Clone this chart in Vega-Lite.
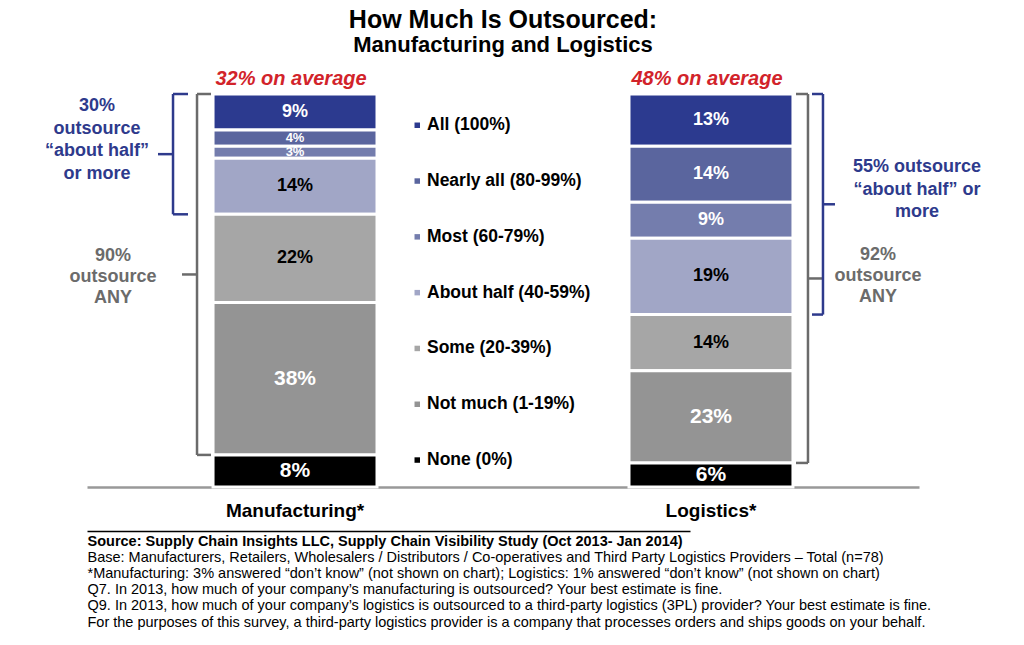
{
  "$schema": "https://vega.github.io/schema/vega-lite/v6.json",
  "width": 832,
  "height": 393,
  "autosize": {"type": "none"},
  "padding": {"left": 87, "top": 94, "right": 105, "bottom": 158},
  "background": "white",
  "config": {
    "font": "Liberation Sans, Arial, sans-serif",
    "view": {"stroke": null},
    "axis": {"grid": false}
  },
  "title": {
    "text": "How Much Is Outsourced:",
    "subtitle": "Manufacturing and Logistics",
    "anchor": "middle",
    "frame": "group",
    "fontSize": 25,
    "fontWeight": "bold",
    "color": "black",
    "subtitleFontSize": 22,
    "subtitleFontWeight": "bold",
    "subtitleColor": "black",
    "subtitlePadding": 2,
    "offset": 13.5
  },
  "datasets": {
    "segments": [
      {"bar": "Manufacturing*", "cat": "All (100%)", "share": 0.09, "rank": 7},
      {"bar": "Manufacturing*", "cat": "Nearly all (80-99%)", "share": 0.04, "rank": 6},
      {"bar": "Manufacturing*", "cat": "Most (60-79%)", "share": 0.03, "rank": 5},
      {"bar": "Manufacturing*", "cat": "About half (40-59%)", "share": 0.14, "rank": 4},
      {"bar": "Manufacturing*", "cat": "Some (20-39%)", "share": 0.22, "rank": 3},
      {"bar": "Manufacturing*", "cat": "Not much (1-19%)", "share": 0.38, "rank": 2},
      {"bar": "Manufacturing*", "cat": "None (0%)", "share": 0.08, "rank": 1},
      {"bar": "Logistics*", "cat": "All (100%)", "share": 0.13, "rank": 7},
      {"bar": "Logistics*", "cat": "Nearly all (80-99%)", "share": 0.14, "rank": 6},
      {"bar": "Logistics*", "cat": "Most (60-79%)", "share": 0.09, "rank": 5},
      {"bar": "Logistics*", "cat": "About half (40-59%)", "share": 0.19, "rank": 4},
      {"bar": "Logistics*", "cat": "Some (20-39%)", "share": 0.14, "rank": 3},
      {"bar": "Logistics*", "cat": "Not much (1-19%)", "share": 0.23, "rank": 2},
      {"bar": "Logistics*", "cat": "None (0%)", "share": 0.06, "rank": 1}
    ],
    "braces": [
      {"id": "Lhalf", "bar": "Manufacturing*", "lo": 0.68, "hi": 0.98, "label": "30%\noutsource\n“about half”\nor more"},
      {"id": "Lany", "bar": "Manufacturing*", "lo": 0.08, "hi": 0.98, "label": "90%\noutsource\nANY"},
      {"id": "Rany", "bar": "Logistics*", "lo": 0.06, "hi": 0.98, "label": "92%\noutsource\nANY"},
      {"id": "Rhalf", "bar": "Logistics*", "lo": 0.43, "hi": 0.98, "label": "55% outsource\n“about half” or\nmore"}
    ],
    "notes": [
      {"bar": "Manufacturing*", "note": "32% on average"},
      {"bar": "Logistics*", "note": "48% on average"}
    ]
  },
  "resolve": {"axis": {"x": "independent"}},
  "layer": [
    {
      "data": {"name": "segments"},
      "mark": {"type": "bar", "stroke": "white", "strokeWidth": 3},
      "encoding": {
        "x": {
          "field": "bar", "type": "nominal", "sort": null,
          "scale": {"domain": ["Manufacturing*", "Logistics*"], "paddingInner": 0.6058, "paddingOuter": 0.303},
          "axis": {"orient": "bottom", "title": null, "domainColor": "#999999", "domainWidth": 2.5, "ticks": false, "labelAngle": 0, "labelFontSize": 19, "labelFontWeight": "bold", "labelColor": "black", "labelPadding": 14}
        },
        "y": {"field": "share", "type": "quantitative", "stack": "zero", "scale": {"domain": [0, 0.98], "nice": false, "zero": true}, "axis": null},
        "color": {
          "field": "cat", "type": "nominal",
          "scale": {
            "domain": ["All (100%)", "Nearly all (80-99%)", "Most (60-79%)", "About half (40-59%)", "Some (20-39%)", "Not much (1-19%)", "None (0%)"],
            "range": ["#2C3A8F", "#5A659E", "#747DAD", "#A1A6C6", "#A6A6A6", "#949494", "#000000"]
          },
          "legend": {"orient": "none", "legendX": 321.5, "legendY": 22.5, "title": null, "symbolType": "square", "symbolSize": 30, "symbolStrokeWidth": 0, "labelFontSize": 17.5, "labelFontWeight": "bold", "labelColor": "black", "rowPadding": 36.8, "labelOffset": 1, "labelLimit": 400, "padding": 0}
        },
        "order": {"field": "rank", "type": "quantitative"}
      }
    },
    {
      "data": {"name": "segments"},
      "mark": {"type": "text", "fontWeight": "bold"},
      "encoding": {
        "x": {
          "field": "bar", "type": "nominal",
          "axis": {"orient": "bottom", "offset": 60, "domain": false, "ticks": false, "labels": false, "title": ["Base:  Manufacturers, Retailers, Wholesalers / Distributors / Co-operatives and Third Party Logistics Providers – Total (n=78)", "*Manufacturing:  3% answered “don’t know” (not shown on chart);  Logistics: 1% answered “don’t know” (not shown on chart)", "Q7. In 2013, how much of your company’s manufacturing is outsourced? Your best estimate is fine.", "Q9. In 2013, how much of your company’s logistics is outsourced to a third-party logistics (3PL) provider? Your best estimate is fine.", "For the purposes of this survey, a third-party logistics provider is a company that processes orders and ships goods on your behalf."], "titleFontSize": 14.5, "titleFontWeight": "normal", "titleColor": "black", "titleAnchor": "start", "titleAlign": "left", "titlePadding": 3, "titleLineHeight": 16.3, "titleLimit": 1000}
        },
        "y": {"field": "share", "type": "quantitative", "stack": "zero", "bandPosition": 0.5},
        "detail": {"field": "cat", "type": "nominal"},
        "order": {"field": "rank", "type": "quantitative"},
        "text": {"field": "share", "type": "quantitative", "format": ".0%"},
        "color": {"condition": {"test": "datum.cat === 'About half (40-59%)' || datum.cat === 'Some (20-39%)'", "value": "black"}, "value": "white"},
        "size": {"condition": [
          {"test": "datum.cat === 'Not much (1-19%)' || datum.cat === 'None (0%)'", "value": 21},
          {"test": "datum.share < 0.05", "value": 13}
        ], "value": 18}
      }
    },
    {
      "data": {"name": "notes"},
      "mark": {"type": "text", "dy": -15, "dx": -4, "fontSize": 20, "fontWeight": "bold", "fontStyle": "italic", "color": "#D2232A"},
      "encoding": {
        "x": {
          "field": "bar", "type": "nominal",
          "axis": {"orient": "bottom", "offset": 44, "domainColor": "black", "domainWidth": 1.5, "domainDash": [603, 2000], "ticks": false, "labels": false, "title": "Source:  Supply Chain Insights LLC, Supply Chain Visibility Study (Oct 2013- Jan 2014)", "titleFontSize": 14.5, "titleFontWeight": "bold", "titleColor": "black", "titleAnchor": "start", "titleAlign": "left", "titlePadding": 3.5, "titleLimit": 1000}
        },
        "y": {"datum": 0.98, "type": "quantitative"},
        "text": {"field": "note"}
      }
    },
    {
      "data": {"name": "braces"},
      "transform": [{"filter": "datum.id === 'Lhalf'"}],
      "layer": [
        {"mark": {"type": "rule", "xOffset": -122, "color": "#2E3A8C", "strokeWidth": 2.5},
         "encoding": {"x": {"field": "bar", "type": "nominal", "axis": null}, "y": {"field": "lo", "type": "quantitative"}, "y2": {"field": "hi"}}},
        {"transform": [{"fold": ["lo", "hi"], "as": ["end", "pos"]}],
         "mark": {"type": "point", "shape": "M0,0L2,0", "size": 225, "xOffset": -122, "filled": false, "color": "#2E3A8C", "strokeWidth": 2.5, "opacity": 1},
         "encoding": {"x": {"field": "bar", "type": "nominal", "axis": null}, "y": {"field": "pos", "type": "quantitative"}}},
        {"mark": {"type": "point", "shape": "M0,0L-2,0", "size": 225, "xOffset": -122, "filled": false, "color": "#2E3A8C", "strokeWidth": 2.5, "opacity": 1},
         "encoding": {"x": {"field": "bar", "type": "nominal", "axis": null}, "y": {"field": "lo", "type": "quantitative", "bin": "binned", "bandPosition": 0.5}, "y2": {"field": "hi"}}},
        {"transform": [{"fold": ["lo", "hi"], "as": ["end", "pos"]}],
         "mark": {"type": "text", "dx": -198, "dy": -48, "fontSize": 18, "fontWeight": "bold", "color": "#2E3A8C", "lineBreak": "\n", "lineHeight": 22.5, "align": "center"},
         "encoding": {"x": {"field": "bar", "type": "nominal", "axis": null}, "y": {"aggregate": "mean", "field": "pos", "type": "quantitative"}, "text": {"field": "label", "type": "nominal"}}}
      ]
    },
    {
      "data": {"name": "braces"},
      "transform": [{"filter": "datum.id === 'Lany'"}],
      "layer": [
        {"mark": {"type": "rule", "xOffset": -98, "color": "#6B6B6B", "strokeWidth": 2.5},
         "encoding": {"x": {"field": "bar", "type": "nominal", "axis": null}, "y": {"field": "lo", "type": "quantitative"}, "y2": {"field": "hi"}}},
        {"transform": [{"fold": ["lo", "hi"], "as": ["end", "pos"]}],
         "mark": {"type": "point", "shape": "M0,0L2,0", "size": 196, "xOffset": -98, "filled": false, "color": "#6B6B6B", "strokeWidth": 2.5, "opacity": 1},
         "encoding": {"x": {"field": "bar", "type": "nominal", "axis": null}, "y": {"field": "pos", "type": "quantitative"}}},
        {"mark": {"type": "point", "shape": "M0,0L-2,0", "size": 225, "xOffset": -98, "filled": false, "color": "#6B6B6B", "strokeWidth": 2.5, "opacity": 1},
         "encoding": {"x": {"field": "bar", "type": "nominal", "axis": null}, "y": {"field": "lo", "type": "quantitative", "bin": "binned", "bandPosition": 0.5}, "y2": {"field": "hi"}}},
        {"transform": [{"fold": ["lo", "hi"], "as": ["end", "pos"]}],
         "mark": {"type": "text", "dx": -182, "dy": -18, "fontSize": 18, "fontWeight": "bold", "color": "#6B6B6B", "lineBreak": "\n", "lineHeight": 21, "align": "center"},
         "encoding": {"x": {"field": "bar", "type": "nominal", "axis": null}, "y": {"aggregate": "mean", "field": "pos", "type": "quantitative"}, "text": {"field": "label", "type": "nominal"}}}
      ]
    },
    {
      "data": {"name": "braces"},
      "transform": [{"filter": "datum.id === 'Rany'"}],
      "layer": [
        {"mark": {"type": "rule", "xOffset": 97, "color": "#6B6B6B", "strokeWidth": 2.5},
         "encoding": {"x": {"field": "bar", "type": "nominal", "axis": null}, "y": {"field": "lo", "type": "quantitative"}, "y2": {"field": "hi"}}},
        {"transform": [{"fold": ["lo", "hi"], "as": ["end", "pos"]}],
         "mark": {"type": "point", "shape": "M0,0L-2,0", "size": 144, "xOffset": 97, "filled": false, "color": "#6B6B6B", "strokeWidth": 2.5, "opacity": 1},
         "encoding": {"x": {"field": "bar", "type": "nominal", "axis": null}, "y": {"field": "pos", "type": "quantitative"}}},
        {"mark": {"type": "point", "shape": "M0,0L2,0", "size": 225, "xOffset": 97, "filled": false, "color": "#6B6B6B", "strokeWidth": 2.5, "opacity": 1},
         "encoding": {"x": {"field": "bar", "type": "nominal", "axis": null}, "y": {"field": "lo", "type": "quantitative", "bin": "binned", "bandPosition": 0.5}, "y2": {"field": "hi"}}},
        {"transform": [{"fold": ["lo", "hi"], "as": ["end", "pos"]}],
         "mark": {"type": "text", "dx": 167, "dy": -23.5, "fontSize": 18, "fontWeight": "bold", "color": "#6B6B6B", "lineBreak": "\n", "lineHeight": 21, "align": "center"},
         "encoding": {"x": {"field": "bar", "type": "nominal", "axis": null}, "y": {"aggregate": "mean", "field": "pos", "type": "quantitative"}, "text": {"field": "label", "type": "nominal"}}}
      ]
    },
    {
      "data": {"name": "braces"},
      "transform": [{"filter": "datum.id === 'Rhalf'"}],
      "layer": [
        {"mark": {"type": "rule", "xOffset": 112, "color": "#2E3A8C", "strokeWidth": 2.5},
         "encoding": {"x": {"field": "bar", "type": "nominal", "axis": null}, "y": {"field": "lo", "type": "quantitative"}, "y2": {"field": "hi"}}},
        {"transform": [{"fold": ["lo", "hi"], "as": ["end", "pos"]}],
         "mark": {"type": "point", "shape": "M0,0L-2,0", "size": 121, "xOffset": 112, "filled": false, "color": "#2E3A8C", "strokeWidth": 2.5, "opacity": 1},
         "encoding": {"x": {"field": "bar", "type": "nominal", "axis": null}, "y": {"field": "pos", "type": "quantitative"}}},
        {"mark": {"type": "point", "shape": "M0,0L2,0", "size": 144, "xOffset": 112, "filled": false, "color": "#2E3A8C", "strokeWidth": 2.5, "opacity": 1},
         "encoding": {"x": {"field": "bar", "type": "nominal", "axis": null}, "y": {"field": "lo", "type": "quantitative", "bin": "binned", "bandPosition": 0.5}, "y2": {"field": "hi"}}},
        {"transform": [{"fold": ["lo", "hi"], "as": ["end", "pos"]}],
         "mark": {"type": "text", "dx": 206, "dy": -37, "fontSize": 18, "fontWeight": "bold", "color": "#2E3A8C", "lineBreak": "\n", "lineHeight": 22.5, "align": "center"},
         "encoding": {"x": {"field": "bar", "type": "nominal", "axis": null}, "y": {"aggregate": "mean", "field": "pos", "type": "quantitative"}, "text": {"field": "label", "type": "nominal"}}}
      ]
    }
  ]
}
